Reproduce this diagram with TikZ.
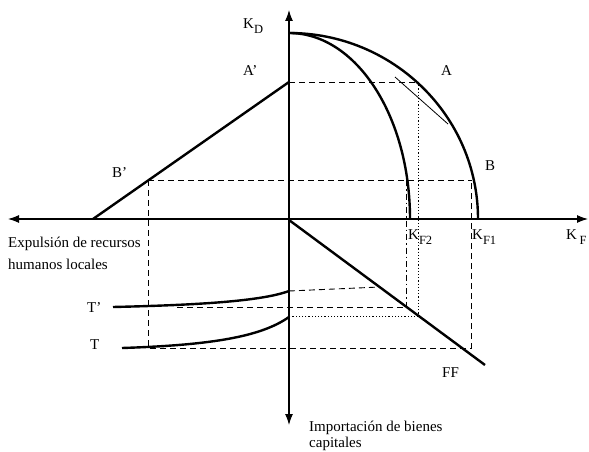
\documentclass[tikz,border=0pt]{standalone}
\usepackage{fontspec}
\setmainfont{Liberation Serif}
\usetikzlibrary{arrows.meta}
\newcommand{\lowsub}[1]{\raisebox{-5pt}{\fontsize{12.5}{12.5}\selectfont #1}}
\begin{document}
\begin{tikzpicture}[x=1pt, y=-1pt,
    axis/.style={line width=1.1pt, {Latex[length=11pt,width=8pt]}-{Latex[length=11pt,width=8pt]}},
    frontier/.style={line width=2.4pt},
    dashguide/.style={line width=0.9pt, dash pattern=on 6pt off 4pt},
    dotguide/.style={line width=0.9pt, dash pattern=on 1.2pt off 2pt},
    dashdotguide/.style={line width=0.9pt, dash pattern=on 6pt off 3pt on 1.5pt off 3pt},
    every node/.style={inner sep=0pt, anchor=base west, font=\fontsize{15}{18}\selectfont}]
    \useasboundingbox (0,0) rectangle (589,452);
    % axes
    \coordinate (top) at (289,10);
    \coordinate (bottom) at (289,425);
    \coordinate (left) at (8,219);
    \coordinate (right) at (588,219);
    \draw[axis] (bottom) -- (top);
    \draw[axis] (left) -- (right);
    % points
    \coordinate (KD) at (289,33);
    \coordinate (KF1) at (478,219);
    \coordinate (KF2) at (410,219);
    \coordinate (Ap) at (289,82);
    \coordinate (A) at (418,82);
    \coordinate (Bp) at (148,180);
    \coordinate (B) at (472,180);
    \coordinate (C) at (406,180);
    \coordinate (Lstart) at (93,219);
    \coordinate (Fstart) at (289,220);
    \coordinate (Fend) at (485,365);
    % frontiers
    \draw[frontier] (KD) .. controls (393,33) and (478,116) .. (KF1);
    \draw[frontier] (KD) .. controls (356,33) and (410,116) .. (KF2);
    \draw[frontier] (Lstart) -- (Ap);
    \draw[frontier] (Fstart) -- (Fend);
    \draw[frontier] (113,307) .. controls (200,305) and (262,301) .. (289,291);
    \draw[frontier] (122,348) .. controls (215,345) and (262,336) .. (289,317);
    % tangent at A
    \draw[line width=0.8pt] (395,77) -- (448,124);
    % guides
    \draw[dashguide] (Ap) -- (A);
    \draw[dotguide] (A) -- (418,316) -- (289,316);
    \draw[dashguide] (Bp) -- (B);
    \draw[dashguide] (Bp) -- (148,348) -- (471,348) -- (471,180);
    \draw[dashdotguide] (C) -- (406,307);
    \draw[dashguide] (177,307) -- (406,307);
    \draw[dashguide] (289,291) -- (380,287);
    % labels
    \node (lKD) at (243,29) {K\lowsub{D}};
    \node (lAp) at (243,76) {A’};
    \node (lA) at (441,76) {A};
    \node (lB) at (485,170) {B};
    \node (lBp) at (112,177) {B’};
    \node (lKF2) at (408,239) {K\lowsub{F2}};
    \node (lKF1) at (472,239) {K\lowsub{F1}};
    \node (lKF) at (566,239) {K\,\lowsub{F}};
    \node (lexp1) at (8,247) {Expulsión de recursos};
    \node (lexp2) at (8,269) {humanos locales};
    \node (lTp) at (87,312) {T’};
    \node (lT) at (90,349) {T};
    \node (lFF) at (442,377) {FF};
    \node (limp1) at (309,431) {Importación de bienes};
    \node (limp2) at (309,447) {capitales};
\end{tikzpicture}
\end{document}
